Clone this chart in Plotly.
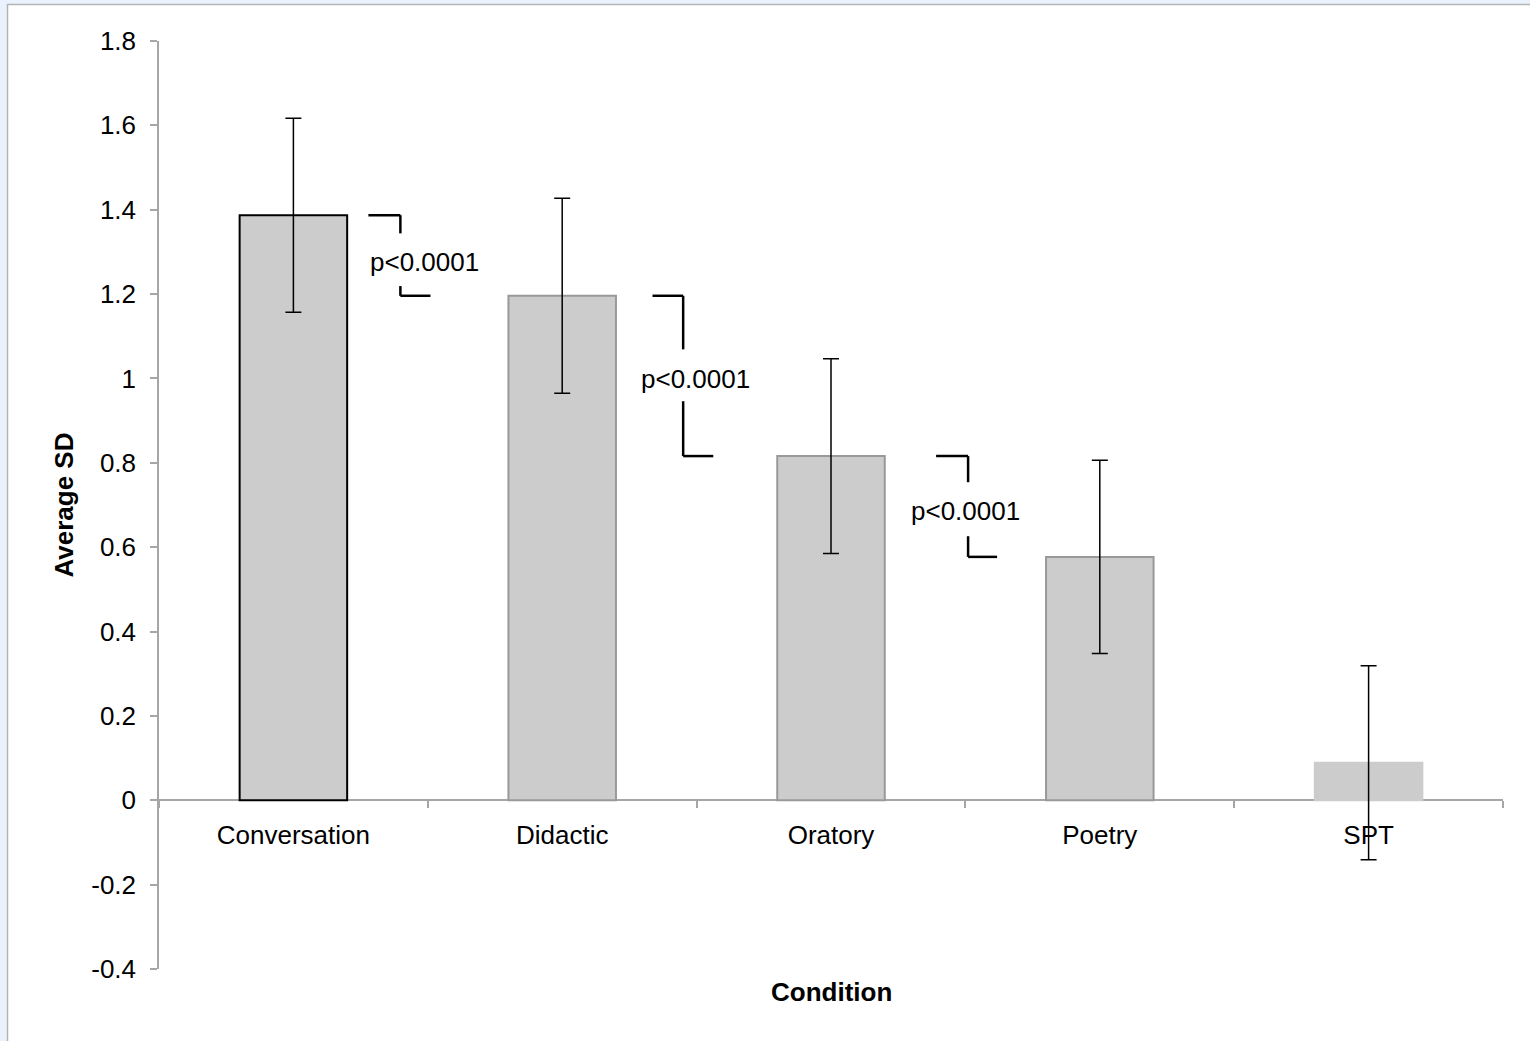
import plotly.graph_objects as go

categories = ["Conversation", "Didactic", "Oratory", "Poetry", "SPT"]
mean_sd = [1.387, 1.196, 0.816, 0.577, 0.089]
err_sd = [0.230, 0.231, 0.231, 0.229, 0.230]
y_ticks = [-0.4, -0.2, 0, 0.2, 0.4, 0.6, 0.8, 1, 1.2, 1.4, 1.6, 1.8]
y_tick_text = ["-0.4", "-0.2", "0", "0.2", "0.4", "0.6", "0.8", "1", "1.2", "1.4", "1.6", "1.8"]
bar_edge = ["#000000", "#999999", "#999999", "#999999", "#cccccc"]
p_label = "p<0.0001"
# bracket geometry (category units / data units) for comparisons i vs i+1
br_left = [0.279, 1.336, 2.391]
br_mid = [0.398, 1.450, 2.510]
br_right = [0.510, 1.562, 2.618]
br_gap_top = [1.344, 1.069, 0.754]
br_gap_bot = [1.219, 0.946, 0.626]
br_text_x = [0.486, 1.495, 2.502]
br_text_y = [1.276, 0.998, 0.685]

W, H = 1530, 1041
ML, MR, MT, MB = 159, 27, 41, 72
PW, PH = W - ML - MR, H - MT - MB
YMIN, YMAX = -0.4, 1.8
FS = 26

def px_x(px):
    return (px - ML) / PW

def px_y(py):
    return (H - MB - py) / PH

FONT = "Liberation Sans, Arial, sans-serif"

fig = go.Figure()
fig.add_trace(go.Bar(
    x=categories, y=mean_sd, width=0.4,
    marker=dict(color="#cccccc", line=dict(color=bar_edge, width=2)),
    error_y=dict(type="data", array=err_sd, visible=True, color="#000000",
                 thickness=1.5, width=8),
    showlegend=False,
))

shapes = []
# page border strips
shapes.append(dict(type="rect", xref="paper", yref="paper", x0=px_x(0), x1=px_x(W),
                   y0=px_y(0), y1=px_y(4), fillcolor="#eaf3fd", line=dict(width=0), layer="below"))
shapes.append(dict(type="rect", xref="paper", yref="paper", x0=px_x(0), x1=px_x(7),
                   y0=px_y(0), y1=px_y(H), fillcolor="#eaf3fd", line=dict(width=0), layer="below"))
shapes.append(dict(type="line", xref="paper", yref="paper", x0=px_x(7), x1=px_x(W),
                   y0=px_y(4.5), y1=px_y(4.5), line=dict(color="#b4b4b4", width=1.5)))
shapes.append(dict(type="line", xref="paper", yref="paper", x0=px_x(7.5), x1=px_x(7.5),
                   y0=px_y(4), y1=px_y(H), line=dict(color="#b4b4b4", width=1.5)))

annotations = []
for i in range(len(br_left)):
    top = mean_sd[i]
    bot = mean_sd[i + 1]
    ln = dict(color="#000000", width=2.5)
    shapes.append(dict(type="line", xref="x", yref="y", x0=br_left[i], x1=br_mid[i], y0=top, y1=top, line=ln))
    shapes.append(dict(type="line", xref="x", yref="y", x0=br_mid[i], x1=br_mid[i], y0=top, y1=br_gap_top[i], line=ln))
    shapes.append(dict(type="line", xref="x", yref="y", x0=br_mid[i], x1=br_mid[i], y0=br_gap_bot[i], y1=bot, line=ln))
    shapes.append(dict(type="line", xref="x", yref="y", x0=br_mid[i], x1=br_right[i], y0=bot, y1=bot, line=ln))
    annotations.append(dict(x=br_text_x[i], y=br_text_y[i], xref="x", yref="y", text=p_label,
                            showarrow=False, font=dict(family=FONT, size=FS, color="#000000"),
                            xanchor="center", yanchor="middle"))

annotations.append(dict(x=0.5, y=px_y(992), xref="paper", yref="paper", text="<b>Condition</b>",
                        showarrow=False, font=dict(family=FONT, size=FS, color="#000000"),
                        xanchor="center", yanchor="middle"))

fig.update_layout(
    width=W, height=H,
    margin=dict(l=ML, r=MR, t=MT, b=MB, pad=0),
    paper_bgcolor="#ffffff", plot_bgcolor="#ffffff",
    font=dict(family=FONT, size=FS, color="#000000"),
    shapes=shapes, annotations=annotations,
    bargap=0.6,
    xaxis=dict(
        type="category", range=[-0.5, 4.5], anchor="free", position=(0 - YMIN) / (YMAX - YMIN),
        showline=True, linecolor="#a6a6a6", linewidth=1.5,
        ticks="outside", tickson="boundaries", ticklen=7, tickcolor="#a6a6a6", tickwidth=1.5,
        showgrid=False, zeroline=False, layer="below traces", ticklabelstandoff=12,
        tickfont=dict(family=FONT, size=FS, color="#000000"),
    ),
    yaxis=dict(
        range=[YMIN, YMAX], tickvals=y_ticks, ticktext=y_tick_text,
        showline=True, linecolor="#a6a6a6", linewidth=1.5,
        ticks="outside", ticklen=7, tickcolor="#a6a6a6", tickwidth=1.5,
        showgrid=False, zeroline=False, ticklabelstandoff=9,
        tickfont=dict(family=FONT, size=FS, color="#000000"),
        title=dict(text="<b>Average SD</b>", font=dict(family=FONT, size=FS, color="#000000"), standoff=10),
    ),
)

fig.write_html("out.html", config={"displayModeBar": False},
               post_script="document.body.style.margin='0';")
